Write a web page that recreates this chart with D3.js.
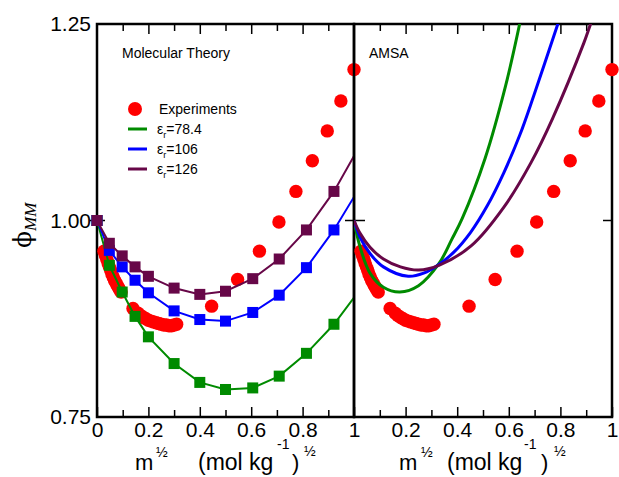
<!DOCTYPE html>
<html>
<head>
<meta charset="utf-8">
<script src="https://cdn.jsdelivr.net/npm/d3@7"></script>
<style>
  body { margin: 0; background: #fff; }
  text { font-family: "Liberation Sans", Arial, sans-serif; }
</style>
</head>
<body>
<svg id="chart" width="619" height="477"></svg>
<script>

// experimental points (shared by both panels), x = m^1/2
var expX = [0.027, 0.033, 0.038, 0.043, 0.048, 0.053, 0.058, 0.063, 0.068, 0.073, 0.078, 0.083, 0.088, 0.094,
            0.14, 0.16, 0.17, 0.18, 0.19, 0.20, 0.21, 0.22, 0.23, 0.24, 0.25, 0.26, 0.27, 0.28, 0.29, 0.30, 0.31,
            0.446, 0.547, 0.632, 0.708, 0.774, 0.838, 0.896, 0.949, 1.0];
var expY = [0.961, 0.955, 0.951, 0.946, 0.941, 0.937, 0.932, 0.928, 0.924, 0.921, 0.918, 0.915, 0.912, 0.909,
            0.888, 0.882, 0.879, 0.877, 0.875, 0.873, 0.872, 0.871, 0.870, 0.869, 0.868, 0.867, 0.867, 0.866, 0.866, 0.867, 0.868,
            0.891, 0.925, 0.961, 0.998, 1.037, 1.076, 1.114, 1.152, 1.192];

// molecular theory
var mtX = [0, 0.048, 0.098, 0.148, 0.2, 0.3, 0.4, 0.5, 0.606, 0.709, 0.815, 0.922, 1.0];
var mt784 = [1.0, 0.943, 0.909, 0.878, 0.852, 0.818, 0.794, 0.785, 0.787, 0.802, 0.831, 0.868, 0.902];
var mt106 = [1.0, 0.962, 0.941, 0.924, 0.908, 0.885, 0.874, 0.872, 0.883, 0.905, 0.940, 0.988, 1.030];
var mt126 = [1.0, 0.971, 0.955, 0.941, 0.929, 0.914, 0.906, 0.910, 0.926, 0.951, 0.988, 1.037, 1.082];

// AMSA
var amX784 = [0, 0.023, 0.062, 0.114, 0.178, 0.25, 0.329, 0.379, 0.42, 0.508, 0.588, 0.642, 0.66];
var am784  = [1.0, 0.967, 0.933, 0.915, 0.909, 0.917, 0.945, 0.976, 1.003, 1.079, 1.172, 1.25, 1.28];
var amX106 = [0, 0.023, 0.062, 0.114, 0.21, 0.27, 0.329, 0.388, 0.452, 0.517, 0.581, 0.643, 0.698, 0.79, 0.81];
var am106  = [1.0, 0.979, 0.958, 0.941, 0.929, 0.933, 0.944, 0.960, 0.985, 1.019, 1.061, 1.109, 1.160, 1.25, 1.27];
var amX126 = [0, 0.023, 0.062, 0.114, 0.18, 0.25, 0.329, 0.455, 0.581, 0.685, 0.77, 0.891, 0.917, 0.94];
var am126  = [1.0, 0.984, 0.966, 0.951, 0.941, 0.937, 0.943, 0.968, 1.017, 1.073, 1.130, 1.226, 1.25, 1.27];

var xTicksL = [0, 0.2, 0.4, 0.6, 0.8, 1];
var xTicksR = [0.2, 0.4, 0.6, 0.8, 1];
var xMinor = [0.1, 0.3, 0.5, 0.7, 0.9];
var yTicks = [0.75, 1.0, 1.25];

var green = "#008b00", blue = "#0000ff", maroon = "#670748", red = "#ff0000";

var svg = d3.select("#chart");
svg.append("rect").attr("width", 619).attr("height", 477).attr("fill", "#fff");

var y = d3.scaleLinear().domain([0.75, 1.25]).range([417, 24]);
var xL = d3.scaleLinear().domain([0, 1]).range([97, 354]);
var xR = d3.scaleLinear().domain([0, 1]).range([354, 612]);

var defs = svg.append("defs");
defs.append("clipPath").attr("id", "clipL").append("rect")
  .attr("x", 97).attr("y", 24).attr("width", 257).attr("height", 393);
defs.append("clipPath").attr("id", "clipR").append("rect")
  .attr("x", 354).attr("y", 24).attr("width", 258).attr("height", 393);

function zip(xs, ys) { return xs.map(function(d, i) { return {x: d, y: ys[i]}; }); }
var expData = zip(expX, expY);

function frame(x, ticks, fmt) {
  var g = svg.append("g");
  g.append("rect").attr("x", x(0)).attr("y", 24).attr("width", x(1) - x(0)).attr("height", 393)
    .attr("fill", "none").attr("stroke", "#000").attr("stroke-width", 2.5);

  var bot = g.append("g").attr("transform", "translate(0,417)")
    .call(d3.axisBottom(x).tickValues(ticks).tickSize(-10).tickPadding(5).tickFormat(fmt));
  bot.append("g").call(d3.axisBottom(x).tickValues(xMinor).tickSize(-7).tickFormat(""));
  var top = g.append("g").attr("transform", "translate(0,24)")
    .call(d3.axisTop(x).tickValues([0.2, 0.4, 0.6, 0.8]).tickSize(-10).tickFormat(""));
  top.append("g").call(d3.axisTop(x).tickValues(xMinor).tickSize(-7).tickFormat(""));
  g.selectAll(".domain").remove();
  g.selectAll(".tick line").attr("stroke", "#000").attr("stroke-width", 1.5);
  g.selectAll(".tick text").attr("font-size", 21).attr("fill", "#000")
    .style("font-family", "Liberation Sans, Arial, sans-serif");
  return g;
}

function fmtX(d) { return (d === 0 || d === 1) ? String(d) : d.toFixed(1); }

// ---------- left panel : Molecular Theory ----------
frame(xL, xTicksL, fmtX);

var yAx = svg.append("g").attr("transform", "translate(97,0)")
  .call(d3.axisLeft(y).tickValues(yTicks).tickSize(0).tickPadding(6).tickFormat(d3.format(".2f")));
yAx.select(".domain").remove();
yAx.selectAll("text").attr("font-size", 21).attr("fill", "#000")
  .style("font-family", "Liberation Sans, Arial, sans-serif");

// ticks at 1.00
svg.append("line").attr("x1", 90).attr("x2", 105).attr("y1", y(1)).attr("y2", y(1))
  .attr("stroke", "#000").attr("stroke-width", 1.5);

var pL = svg.append("g");
pL.selectAll("circle").data(expData).enter().append("circle")
  .attr("cx", function(d) { return xL(d.x); })
  .attr("cy", function(d) { return y(d.y); })
  .attr("r", 6.7).attr("fill", red);

var mtSeries = [{v: mt784, c: green}, {v: mt106, c: blue}, {v: mt126, c: maroon}];
var lineL = d3.line().x(function(d) { return xL(d.x); }).y(function(d) { return y(d.y); });
mtSeries.forEach(function(s) {
  var pts = zip(mtX, s.v);
  pL.append("path").datum(pts).attr("d", lineL).attr("fill", "none")
    .attr("stroke", s.c).attr("stroke-width", 2).attr("clip-path", "url(#clipL)");
  pL.selectAll(null).data(pts.filter(function(d) { return d.x < 1; })).enter().append("rect")
    .attr("x", function(d) { return xL(d.x) - 5.5; })
    .attr("y", function(d) { return y(d.y) - 5.5; })
    .attr("width", 11).attr("height", 11).attr("fill", s.c);
});

svg.append("text").attr("x", 122).attr("y", 58).attr("font-size", 14).text("Molecular Theory");

// legend
svg.append("circle").attr("cx", 135).attr("cy", 109).attr("r", 7).attr("fill", red);
svg.append("text").attr("x", 159).attr("y", 114).attr("font-size", 14).text("Experiments");
var legItems = [{c: green, t: "=78.4"}, {c: blue, t: "=106"}, {c: maroon, t: "=126"}];
legItems.forEach(function(d, i) {
  var ly = 129 + i * 20;
  svg.append("line").attr("x1", 128).attr("x2", 147).attr("y1", ly).attr("y2", ly)
    .attr("stroke", d.c).attr("stroke-width", 3);
  var t = svg.append("text").attr("x", 157).attr("y", ly + 5).attr("font-size", 14);
  t.append("tspan").text("ε");
  t.append("tspan").attr("font-size", 9).attr("dy", 4).text("r");
  t.append("tspan").attr("dy", -4).text(d.t);
});

// ---------- right panel : AMSA ----------
frame(xR, xTicksR, fmtX);
svg.append("line").attr("x1", 345).attr("x2", 365).attr("y1", y(1)).attr("y2", y(1))
  .attr("stroke", "#000").attr("stroke-width", 1.5);
svg.append("line").attr("x1", 603).attr("x2", 612).attr("y1", y(1)).attr("y2", y(1))
  .attr("stroke", "#000").attr("stroke-width", 1.5);

var pR = svg.append("g");
pR.selectAll("circle").data(expData).enter().append("circle")
  .attr("cx", function(d) { return xR(d.x); })
  .attr("cy", function(d) { return y(d.y); })
  .attr("r", 6.7).attr("fill", red);

var lineR = d3.line().curve(d3.curveCatmullRom.alpha(0.5))
  .x(function(d) { return xR(d.x); }).y(function(d) { return y(d.y); });
[{x: amX784, v: am784, c: green}, {x: amX106, v: am106, c: blue}, {x: amX126, v: am126, c: maroon}]
  .forEach(function(s) {
    pR.append("path").datum(zip(s.x, s.v)).attr("d", lineR).attr("fill", "none")
      .attr("stroke", s.c).attr("stroke-width", 3).attr("clip-path", "url(#clipR)");
  });

svg.append("text").attr("x", 369).attr("y", 58).attr("font-size", 14).text("AMSA");

// ---------- axis titles ----------
function xTitle(xm, xh1, xp, xsup, xcl, xh2, b1, b2, b3) {
  var t = svg.append("g");
  t.append("text").attr("x", xm).attr("y", 470).attr("font-size", 22).text("m");
  t.append("text").attr("x", xh1).attr("y", b1).attr("font-size", 14).text("½");
  t.append("text").attr("x", xp).attr("y", 470).attr("font-size", 23).text("(mol kg");
  t.append("text").attr("x", xsup).attr("y", b2).attr("font-size", 14).text("-1");
  t.append("text").attr("x", xcl).attr("y", 470).attr("font-size", 22).text(")");
  t.append("text").attr("x", xh2).attr("y", b3).attr("font-size", 14).text("½");
}
xTitle(135, 156, 198, 277, 292, 304, 457, 449, 456);
xTitle(399, 421, 447, 524, 541, 554, 457, 449, 456);

var yt = svg.append("text").attr("transform", "translate(31,248) rotate(-90)");
yt.append("tspan").attr("font-size", 25).style("font-family", "DejaVu Serif, serif").text("ϕ");
yt.append("tspan").attr("font-size", 17).attr("dy", 5).attr("font-style", "italic")
  .style("font-family", "Liberation Serif, serif").text("MM");

</script>
</body>
</html>
